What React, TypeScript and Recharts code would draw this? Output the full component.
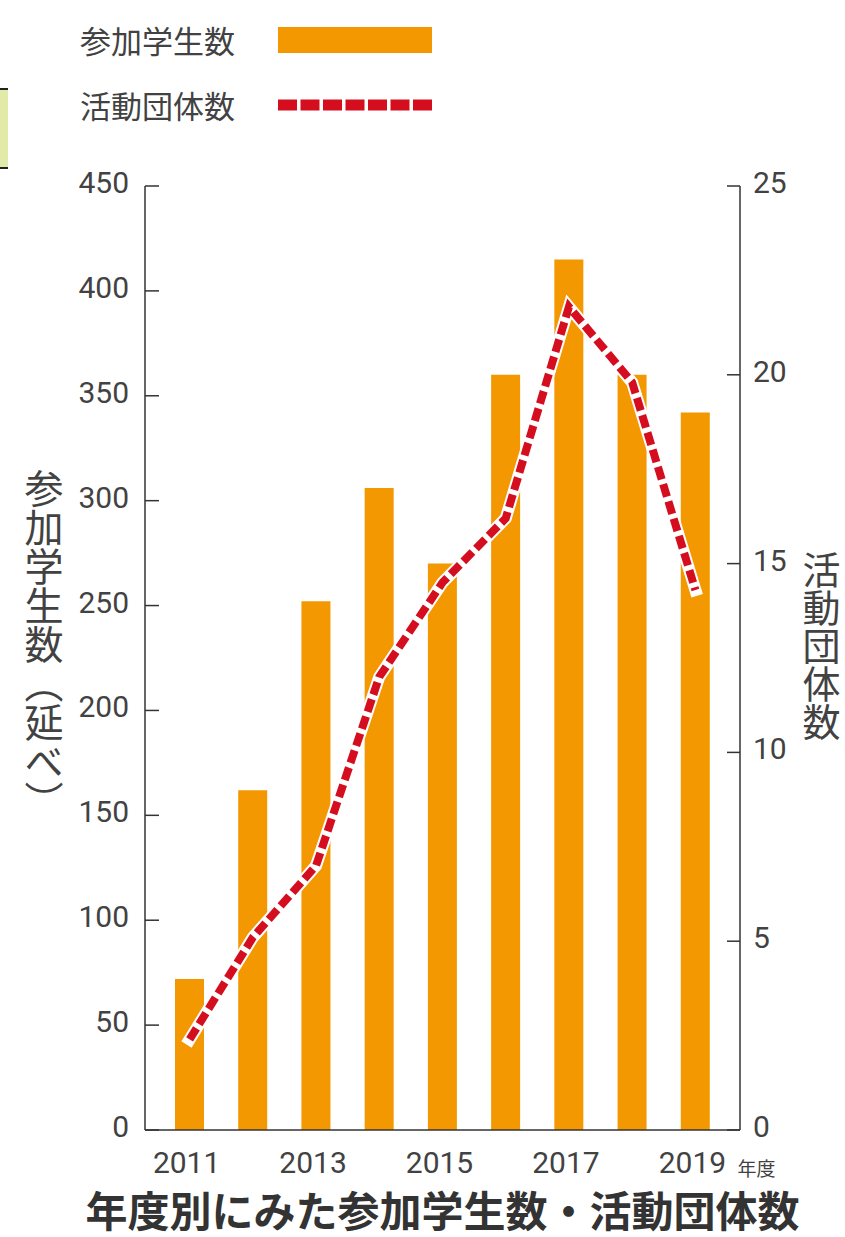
import React from 'react';
import { ComposedChart, Bar, Line, XAxis, YAxis } from 'recharts';

const years = ['2011', '2012', '2013', '2014', '2015', '2016', '2017', '2018', '2019'];
const students = [72, 162, 252, 306, 270, 360, 415, 360, 342];
const groups = [2.4, 5.1, 7, 12, 14.5, 16.2, 21.8, 19.8, 14.3];
const leftTicks = [0, 50, 100, 150, 200, 250, 300, 350, 400, 450];
const rightTicks = [0, 5, 10, 15, 20, 25];

const data = years.map((y, i) => ({ year: y, students: students[i], groups: groups[i] }));

const ORANGE = '#F39800';
const RED = '#D40E1E';
const AXIS = '#333';
const TEXT = '#424242';
const NUM_FONT = "Roboto, 'Noto Sans', sans-serif";
const JP_FONT = "'Noto Sans CJK JP', sans-serif";

const LeftTick = (props: any) => {
  const { x, y, payload } = props;
  return (
    <g>
      <line x1={x} x2={x + 14} y1={y} y2={y} stroke={AXIS} strokeWidth={1.5} />
      <text x={x - 16} y={y + 7} textAnchor="end" fontSize={30} fill={TEXT} fontFamily={NUM_FONT}>
        {payload.value}
      </text>
    </g>
  );
};

const RightTick = (props: any) => {
  const { x, y, payload } = props;
  return (
    <g>
      <line x1={x} x2={x - 13} y1={y} y2={y} stroke={AXIS} strokeWidth={1.5} />
      <text x={x + 13} y={y + 7} textAnchor="start" fontSize={30} fill={TEXT} fontFamily={NUM_FONT}>
        {payload.value}
      </text>
    </g>
  );
};

const XTick = (props: any) => {
  const { x, y, payload } = props;
  const isLast = payload.value === years[years.length - 1];
  return (
    <g>
      <text x={x - 3} y={y + 43} textAnchor="middle" fontSize={30} fill={TEXT} fontFamily={NUM_FONT}>
        {payload.value}
      </text>
      {isLast && (
        <text x={x + 42} y={y + 46} textAnchor="start" fontSize={19} fill={TEXT} fontFamily={JP_FONT}>
          年度
        </text>
      )}
    </g>
  );
};

export default function App() {
  return (
    <div style={{ position: 'absolute', left: 0, top: 0, width: 845, height: 1237, background: '#fff', overflow: 'hidden' }}>
      {/* decorative box fragment at left edge */}
      <div
        style={{
          position: 'absolute',
          left: 0,
          top: 88,
          width: 8,
          height: 77,
          background: '#e1eaa8',
          borderTop: '2px solid #222',
          borderBottom: '2px solid #222',
        }}
      />
      {/* legend */}
      <div style={{ position: 'absolute', left: 80, top: 20, fontSize: 31, lineHeight: '40px', color: TEXT, fontFamily: JP_FONT }}>
        参加学生数
      </div>
      <div style={{ position: 'absolute', left: 278, top: 27, width: 154, height: 26, background: ORANGE }} />
      <div style={{ position: 'absolute', left: 80, top: 85, fontSize: 31, lineHeight: '40px', color: TEXT, fontFamily: JP_FONT }}>
        活動団体数
      </div>
      <svg style={{ position: 'absolute', left: 278, top: 95 }} width={154} height={20}>
        <line x1={0} x2={154} y1={10} y2={10} stroke={RED} strokeWidth={11} strokeDasharray="19 3.5" />
      </svg>

      <ComposedChart width={845} height={1237} data={data} margin={{ top: 186, right: 45, bottom: 47, left: 85 }}>
        <XAxis
          dataKey="year"
          interval={1}
          tickLine={false}
          tickSize={0}
          tickMargin={0}
          padding={{ left: 13, right: 13 }}
          axisLine={{ stroke: AXIS, strokeWidth: 1.5 }}
          tick={<XTick />}
          height={60}
        />
        <YAxis
          yAxisId="left"
          domain={[0, 450]}
          ticks={leftTicks}
          interval={0}
          width={60}
          tickLine={false}
          tickSize={0}
          tickMargin={0}
          axisLine={{ stroke: AXIS, strokeWidth: 1.5 }}
          tick={<LeftTick />}
        />
        <YAxis
          yAxisId="right"
          orientation="right"
          domain={[0, 25]}
          ticks={rightTicks}
          interval={0}
          width={60}
          tickLine={false}
          tickSize={0}
          tickMargin={0}
          axisLine={{ stroke: AXIS, strokeWidth: 1.5 }}
          tick={<RightTick />}
        />
        <Bar yAxisId="left" dataKey="students" fill={ORANGE} barSize={29} isAnimationActive={false} />
        <Line
          yAxisId="right"
          dataKey="groups"
          type="linear"
          stroke="#fff"
          strokeWidth={12}
          strokeLinecap="square"
          dot={false}
          activeDot={false}
          isAnimationActive={false}
        />
        <Line
          yAxisId="right"
          dataKey="groups"
          type="linear"
          stroke={RED}
          strokeWidth={8}
          strokeDasharray="13 5"
          dot={false}
          activeDot={false}
          isAnimationActive={false}
        />
      </ComposedChart>

      {/* vertical axis labels */}
      <div
        style={{
          position: 'absolute',
          left: 24,
          top: 469,
          writingMode: 'vertical-rl',
          fontSize: 39,
          lineHeight: '39px',
          color: TEXT,
          fontFamily: JP_FONT,
        }}
      >
        参加学生数（延べ）
      </div>
      <div
        style={{
          position: 'absolute',
          left: 801,
          top: 551,
          writingMode: 'vertical-rl',
          fontSize: 38,
          lineHeight: '40px',
          color: TEXT,
          fontFamily: JP_FONT,
        }}
      >
        活動団体数
      </div>

      {/* title */}
      <div
        style={{
          position: 'absolute',
          left: 85,
          top: 1186,
          width: 715,
          textAlign: 'center',
          fontSize: 42,
          lineHeight: '46px',
          fontWeight: 'bold',
          color: '#333',
          fontFamily: JP_FONT,
          whiteSpace: 'nowrap',
        }}
      >
        年度別にみた参加学生数・活動団体数
      </div>
    </div>
  );
}
